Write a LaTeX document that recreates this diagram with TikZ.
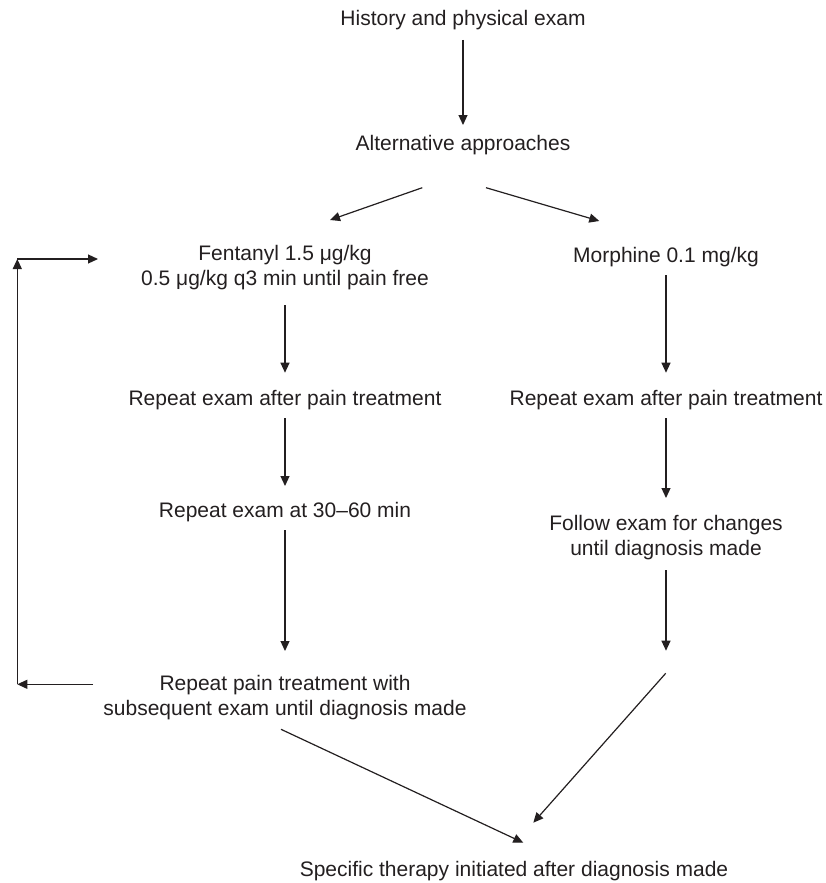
\documentclass[tikz,border=0pt]{standalone}
\usepackage{fontspec}
\setmainfont{Liberation Sans}
\usetikzlibrary{arrows.meta}
\definecolor{ink}{HTML}{231F20}
\begin{document}
\begin{tikzpicture}[x=1pt,y=-1pt,
  lbl/.style={text=ink, font=\fontsize{21}{25}\selectfont, align=center, inner sep=0pt, anchor=base},
  arr/.style={draw=ink, line width=1.2pt, -{Triangle[length=10pt,width=9pt]}}]
\useasboundingbox (0,0) rectangle (826,883);

% text blocks (base = baseline of the last line)
\node[lbl] (hist) at (463,26)  {History and physical exam};
\node[lbl] (alt)  at (463,150) {Alternative approaches};
\node[lbl] (fen)  at (285,285) {Fentanyl 1.5 μg/kg\\0.5 μg/kg q3 min until pain free};
\node[lbl] (mor)  at (666,262.7) {Morphine 0.1 mg/kg};
\node[lbl] (repL) at (285,405) {Repeat exam after pain treatment};
\node[lbl] (repR) at (666,405) {Repeat exam after pain treatment};
\node[lbl] (late) at (285,517.7) {Repeat exam at 30–60 min};
\node[lbl] (fol)  at (666,555) {Follow exam for changes\\until diagnosis made};
\node[lbl] (again) at (285,715) {Repeat pain treatment with\\subsequent exam until diagnosis made};
\node[lbl] (spec) at (514,876) {Specific therapy initiated after diagnosis made};

% corners of the return loop
\coordinate (lb) at (17.3,684.3);
\coordinate (lt) at (17.3,259);

% main flow
\draw[arr] ([shift={(0,14)}]hist.base) -- ([shift={(0,-25)}]alt.base);
\draw[arr] ([shift={(-40.7,37.7)}]alt.base) -- ([shift={(45,-65)}]fen.base);
\draw[arr] ([shift={(23,37.7)}]alt.base) -- ([shift={(-66.7,-41.7)}]mor.base);

% fentanyl branch
\draw[arr] ([shift={(0,20)}]fen.base) -- ([shift={(0,-32.3)}]repL.base);
\draw[arr] ([shift={(0,13)}]repL.base) -- ([shift={(0,-31.7)}]late.base);
\draw[arr] ([shift={(0,12.3)}]late.base) -- ([shift={(0,-64)}]again.base);
\draw[arr] ([shift={(-4,14.3)}]again.base) -- ([shift={(9.3,-33.3)}]spec.base);

% return loop
\draw[arr] ([shift={(-192,-30.7)}]again.base) -- (lb);
\draw[arr] (lb) -- (lt);
\draw[arr] (lt) -- ([shift={(-187,-26)}]fen.base);

% morphine branch
\draw[arr] ([shift={(0,12.3)}]mor.base) -- ([shift={(0,-32.3)}]repR.base);
\draw[arr] ([shift={(0,13)}]repR.base) -- ([shift={(0,-57)}]fol.base);
\draw[arr] ([shift={(0,15)}]fol.base) -- ([shift={(0,95.7)}]fol.base);
\draw[arr] ([shift={(-0.3,118.3)}]fol.base) -- ([shift={(19.3,-53.3)}]spec.base);
\end{tikzpicture}
\end{document}
